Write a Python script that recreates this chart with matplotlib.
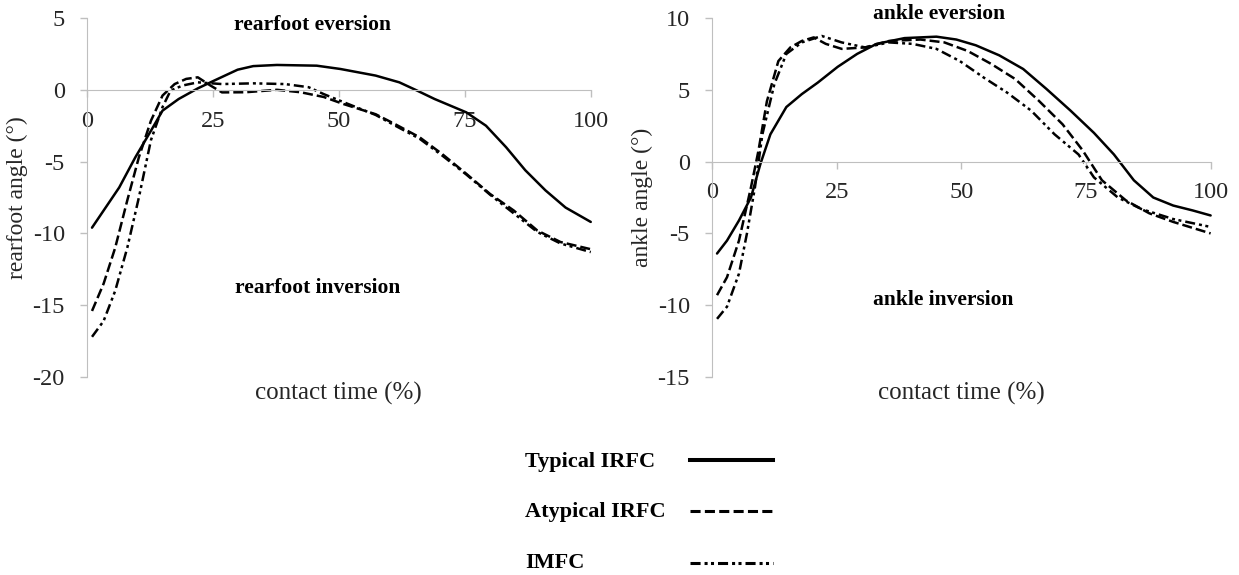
import numpy as np
import matplotlib
matplotlib.use("Agg")
import matplotlib.pyplot as plt
from matplotlib.lines import Line2D

plt.rcParams['font.family'] = ['Liberation Serif', 'DejaVu Serif']
plt.rcParams['axes.unicode_minus'] = False

# ---- rearfoot data (contact time %, angle deg) ----
rf_typ_x = [1, 6.4, 9.6, 12.7, 15, 18.2, 22, 25, 29.9, 33, 37.7, 45.6, 50.3, 57.3, 62, 65.2,
            69, 75.3, 79.2, 83.2, 87, 91, 95, 100]
rf_typ_y = [-9.6, -6.8, -4.7, -2.85, -1.45, -0.64, 0.1, 0.6, 1.4, 1.65, 1.73, 1.68, 1.45, 0.99,
            0.52, 0.0, -0.64, -1.57, -2.5, -4.0, -5.6, -7.0, -8.2, -9.2]

rf_atyp_x = [1, 3.3, 5.6, 8, 10.3, 12.7, 15, 17.4, 19.7, 22, 24.5, 26.8, 31.5, 37.7, 42.4, 47,
             51, 57.3, 61.2, 66, 70.6, 75.3, 80, 84.7, 89.4, 94, 100]
rf_atyp_y = [-15.4, -13.5, -11.0, -7.7, -4.7, -2.15, -0.4, 0.4, 0.76, 0.87, 0.3, -0.18, -0.17,
             0.0, -0.17, -0.5, -1.0, -1.7, -2.4, -3.3, -4.5, -5.85, -7.25, -8.4, -9.8, -10.6, -11.1]

rf_imfc_x = [1, 3.3, 5.6, 8, 10.3, 12.7, 15, 16.6, 19, 22, 26.8, 33, 39.3, 44, 47, 51, 57.3,
             61.2, 66, 70.6, 75.3, 80, 84.7, 89.4, 94, 100]
rf_imfc_y = [-17.2, -16.1, -14.0, -11.0, -7.5, -3.5, -1.2, -0.05, 0.3, 0.52, 0.4, 0.45, 0.4,
             0.18, -0.3, -0.87, -1.75, -2.5, -3.4, -4.6, -5.9, -7.3, -8.6, -9.9, -10.7, -11.3]

# ---- ankle data ----
an_typ_x = [1, 3, 5.4, 7.8, 9.7, 11.7, 14.9, 18, 21.2, 25.2, 29.1, 33, 38.6, 45, 49, 52.9,
            57.6, 62.4, 67.1, 71.9, 76.6, 80.6, 84.6, 88.5, 92.5, 96.4, 100]
an_typ_y = [-6.4, -5.5, -4.1, -2.5, -0.16, 1.9, 3.8, 4.7, 5.5, 6.6, 7.5, 8.2, 8.6, 8.7, 8.5,
            8.1, 7.4, 6.45, 5.05, 3.55, 2.0, 0.5, -1.3, -2.5, -3.06, -3.4, -3.75]

an_atyp_x = [1, 3, 5.4, 7.8, 9.3, 11, 13.3, 15.7, 18, 20.4, 22.8, 26, 30.7, 35.5, 41.8, 46.6,
             51.3, 56, 60.8, 65.5, 70.3, 74.3, 78.2, 83, 87.7, 92.5, 100]
an_atyp_y = [-9.3, -8.05, -5.5, -1.8, 0.75, 4.2, 7.0, 7.95, 8.4, 8.65, 8.2, 7.85, 7.95, 8.4,
             8.5, 8.3, 7.7, 6.8, 5.75, 4.25, 2.6, 0.8, -1.3, -2.7, -3.6, -4.2, -5.0]

an_imfc_x = [1, 3, 5.4, 7, 8.6, 10.1, 12.5, 14.9, 18, 22, 26, 30.7, 35.5, 40.2, 45, 49.7,
             54.5, 59.2, 64, 68.7, 73.5, 76.6, 81.4, 86.1, 92.5, 100]
an_imfc_y = [-10.95, -10.1, -7.8, -5.0, -1.8, 1.9, 5.4, 7.5, 8.3, 8.75, 8.3, 7.95, 8.3, 8.2,
             7.85, 7.0, 5.85, 4.8, 3.55, 1.9, 0.5, -1.1, -2.5, -3.3, -4.0, -4.55]

x_ticks = [0, 25, 50, 75, 100]
series_names = ['Typical IRFC', 'Atypical IRFC', 'IMFC']

# curve styles (dash lengths in units of linewidth)
curve_ls = ['-', (0, (4, 1.6)), (0, (4, 1.6, 1.2, 1.4, 1.2, 1.6))]
legend_ls = ['-', (0, (3.3, 1.4)), (0, (3.3, 1.3, 1, 1.1, 1, 1.3))]
legend_lw = [2.9, 2.2, 2.2]

fig = plt.figure(figsize=(12.39, 5.75), dpi=100)
ax1 = fig.add_axes([0.0702, 0.3443, 0.4066, 0.6244])
ax2 = fig.add_axes([0.5747, 0.3443, 0.4024, 0.6244])

grey = '#bfbfbf'
txt = '#262626'


def setup(ax, ylim, yticks, ylabel, notes):
    ax.set_xlim(0, 100)
    ax.set_ylim(*ylim)
    for s in ['top', 'right']:
        ax.spines[s].set_visible(False)
    ax.spines['bottom'].set_position(('data', 0))
    ax.spines['bottom'].set_color(grey)
    ax.spines['left'].set_color(grey)
    ax.set_xticks(x_ticks)
    ax.set_yticks(yticks)
    ax.tick_params(axis='x', length=5, width=1, color=grey, pad=10, labelsize=17.5, labelcolor=txt)
    ax.tick_params(axis='y', length=5, width=1, color=grey, pad=11, labelsize=17.5, labelcolor=txt)
    ax.set_ylabel(ylabel, fontsize=17, color=txt, labelpad=3)
    ax.text(0.5, -0.045, 'contact time (%)', transform=ax.transAxes, ha='center', va='center',
            fontsize=18, color=txt)
    for label, xf, yf in notes:
        ax.text(xf, yf, label, transform=ax.transAxes, ha='center', va='center',
                fontsize=15.5, fontweight='bold', clip_on=False)


for ax, data in [(ax1, [(rf_typ_x, rf_typ_y), (rf_atyp_x, rf_atyp_y), (rf_imfc_x, rf_imfc_y)]),
                 (ax2, [(an_typ_x, an_typ_y), (an_atyp_x, an_atyp_y), (an_imfc_x, an_imfc_y)])]:
    for (xs, ys), ls in zip(data, curve_ls):
        ax.plot(xs, ys, color='black', ls=ls, lw=1.8, solid_capstyle='round', clip_on=False)

setup(ax1, (-20, 5), [-20, -15, -10, -5, 0, 5], 'rearfoot angle (°)',
      [('rearfoot eversion', 0.447, 0.98), ('rearfoot inversion', 0.457, 0.248)])
setup(ax2, (-15, 10), [-15, -10, -5, 0, 5, 10], 'ankle angle (°)',
      [('ankle eversion', 0.456, 1.01), ('ankle inversion', 0.464, 0.214)])

# legend drawn by hand
leg_text_y = [462, 512, 563]
leg_line_y = [460, 511, 563]
for name, ls, lw, ty, ly in zip(series_names, legend_ls, legend_lw, leg_text_y, leg_line_y):
    fig.text(525 / 1239, 1 - ty / 575, name, ha='left', va='center', fontsize=16,
             fontweight='bold')
    fig.add_artist(Line2D([690 / 1239, 773 / 1239], [1 - ly / 575, 1 - ly / 575],
                          color='black', ls=ls, lw=lw, transform=fig.transFigure))

fig.savefig('out.png', dpi=100)
